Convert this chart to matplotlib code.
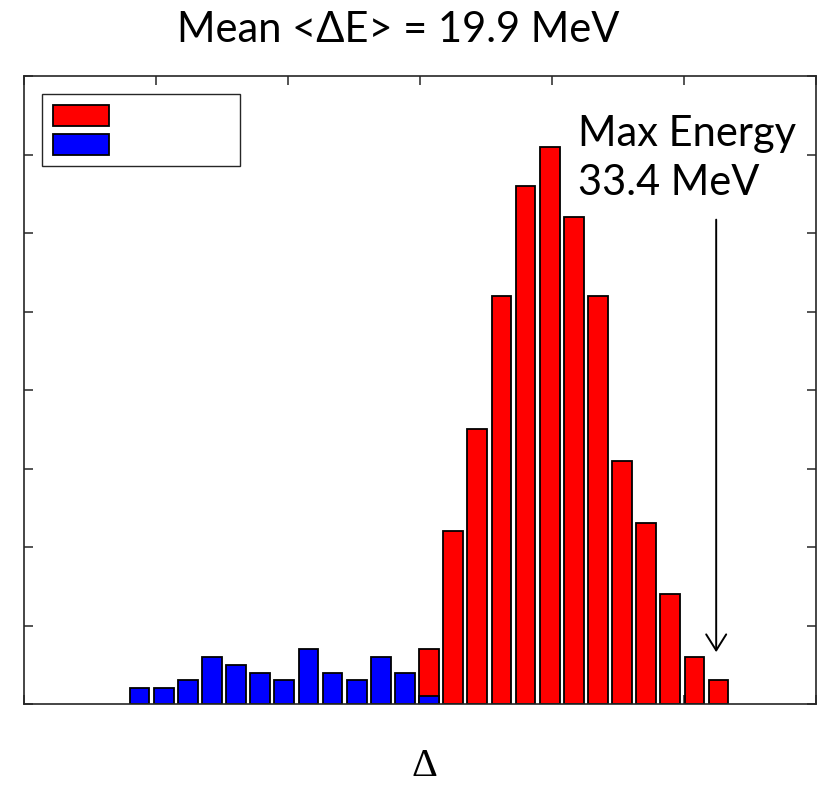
import matplotlib
matplotlib.use('Agg')
import matplotlib.pyplot as plt
from matplotlib.patches import Patch
import numpy as np

# energy bins (MeV), 1 MeV wide
bin_centers = np.arange(9.5, 34.0, 1.0)

# counts per bin
red_counts = [0, 0, 0, 0, 0, 0, 0, 0, 0, 0, 0, 0,
              7, 22, 35, 52, 66, 71, 62, 52, 31, 23, 14, 6, 3]
blue_counts = [2, 2, 3, 6, 5, 4, 3, 7, 4, 3, 6, 4,
               1, 0, 0, 0, 0, 0, 0, 0, 0, 0, 0, 0, 0]

mean_energy = 19.9
max_energy = 33.4

title_text = f"Mean <\u0394E> = {mean_energy} MeV"
note_text = f"Max Energy\n{max_energy} MeV"

W, H = 825, 793
fig = plt.figure(figsize=(W / 100, H / 100), dpi=100)
ax = fig.add_axes([24 / W, 1 - 704 / H, 792 / W, 628 / H])

edge = '#262626'
ax.bar(bin_centers, red_counts, width=0.82, color='#ff0000',
       edgecolor='black', linewidth=1.3)
ax.bar(bin_centers, blue_counts, width=0.82, color='#0000ff',
       edgecolor='black', linewidth=1.3)

x0 = 9.5 - 115.6 / 24.125
x1 = x0 + 792 / 24.125
ax.set_xlim(x0, x1)
ax.set_ylim(0, 80)
ax.set_xticks(np.linspace(x0, x1, 7))
ax.set_yticks(np.arange(0, 81, 10))
ax.set_xticklabels([])
ax.set_yticklabels([])
ax.set_axisbelow(True)
ax.tick_params(direction='in', length=6.5, width=1.1, color=edge,
               top=True, right=True)
for sp in ax.spines.values():
    sp.set_color(edge)
    sp.set_linewidth(1.2)

# legend with blank entries
leg = ax.legend([Patch(facecolor='#ff0000', edgecolor='black', linewidth=1.3),
                 Patch(facecolor='#0000ff', edgecolor='black', linewidth=1.3)],
                ['', ''], loc='upper left',
                bbox_to_anchor=(18 / 792, 1 - 18 / 628), borderaxespad=0,
                fontsize=14.4, handlelength=2.8, handleheight=1.2,
                handletextpad=6.0, borderpad=0.55, labelspacing=0.4,
                fancybox=False, framealpha=1)
leg.get_frame().set_edgecolor(edge)
leg.get_frame().set_linewidth(1.0)

# max energy marker
ax.annotate('', xy=(max_energy, 6.6), xytext=(max_energy, 61.7),
            arrowprops=dict(arrowstyle='->,head_width=0.72,head_length=1.15',
                            lw=1.4, color='black', mutation_scale=10,
                            shrinkA=0, shrinkB=0))
fig.text(578 / W, 1 - 195 / H, note_text, fontsize=30, family='Lato',
         ha='left', va='baseline', linespacing=1.35)

fig.text(398 / W, 1 - 41.7 / H, title_text, fontsize=30, family='Lato',
         ha='center', va='baseline')

ax.set_xlabel('\u0394', fontsize=29, family='Liberation Serif')
ax.xaxis.set_label_coords((424.7 - 24) / 792, -(766.7 - 704) / 628)
ax.xaxis.label.set_va('center')

fig.savefig('out.png', dpi=100)
